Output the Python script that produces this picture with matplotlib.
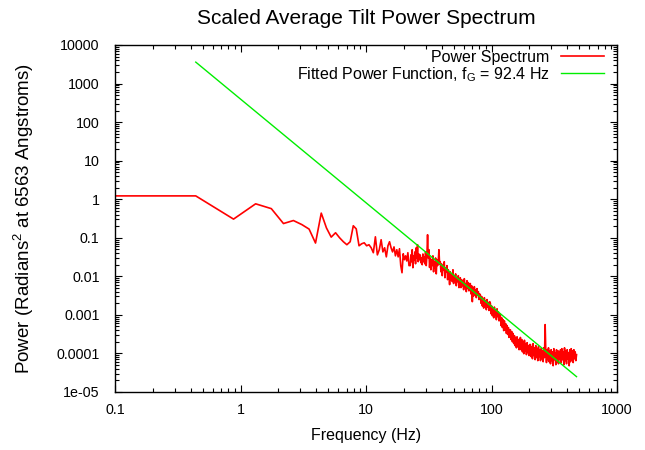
import numpy as np
import matplotlib
matplotlib.use("Agg")
import matplotlib.pyplot as plt
from matplotlib.ticker import FixedLocator, FixedFormatter, LogLocator, NullFormatter

plt.rcParams["font.family"] = ["Liberation Sans", "DejaVu Sans"]
plt.rcParams["mathtext.fontset"] = "custom"
plt.rcParams["mathtext.rm"] = "Liberation Sans"
plt.rcParams["mathtext.it"] = "Liberation Sans"

# ----------------------------
# Data
# ----------------------------

# low-frequency part, one value per spectral bin
low_freq = [0.1, 0.44, 0.88, 1.32, 1.76, 2.20, 2.64, 3.08, 3.52, 3.96, 4.40,
            4.84, 5.28, 5.72, 6.16, 6.60, 7.04, 7.48, 7.92, 8.36, 8.80,
            9.24, 9.68, 10.12, 10.56, 11.00, 11.44, 11.88, 12.32, 12.76, 13.20,
            13.64, 14.08, 14.52, 14.96, 15.40, 15.84, 16.28, 16.72, 17.16, 17.60,
            18.04, 18.48, 18.92, 19.36, 19.80, 20.24, 20.68, 21.12, 21.56, 22.00]
low_power = [1.22, 1.22, 0.305, 0.76, 0.57, 0.234, 0.28, 0.22, 0.168, 0.073, 0.436,
             0.18, 0.104, 0.135, 0.10, 0.079, 0.066, 0.079, 0.205, 0.17, 0.062,
             0.070, 0.074, 0.062, 0.066, 0.055, 0.041, 0.106, 0.036, 0.049, 0.089,
             0.043, 0.055, 0.032, 0.062, 0.079, 0.055, 0.043, 0.058, 0.034, 0.049,
             0.032, 0.052, 0.019, 0.0124, 0.0385, 0.027, 0.034, 0.025, 0.041, 0.019]

# dense part (22.5 - 476 Hz), values along a log-spaced frequency grid
dense_fmin, dense_fmax = 22.5, 476.0
dense_power = [
    0.019, 0.036, 0.024, 0.049, 0.0167, 0.034, 0.027, 0.043, 0.0212, 0.055, 0.030, 0.066, 0.024, 0.038, 0.027,
    0.036, 0.0225, 0.030, 0.020, 0.038, 0.024, 0.032, 0.021, 0.043, 0.019, 0.034, 0.12, 0.030, 0.049, 0.017,
    0.030, 0.0148, 0.027, 0.019, 0.034, 0.0131, 0.024, 0.0167, 0.030, 0.0116, 0.027, 0.019, 0.024, 0.049, 0.021,
    0.024, 0.0131, 0.021, 0.0104, 0.019, 0.0148, 0.024, 0.0092, 0.0167, 0.0131, 0.019, 0.0082, 0.0148, 0.0104, 0.0061,
    0.0131, 0.0082, 0.0116, 0.0073, 0.0148, 0.0065, 0.0104, 0.0082, 0.0116, 0.0057, 0.0092, 0.0073, 0.0104, 0.0051, 0.0082,
    0.0092, 0.0051, 0.0082, 0.0057, 0.0073, 0.0045, 0.0087, 0.0054, 0.0065, 0.0040, 0.0077, 0.0048, 0.0069, 0.0042, 0.0061,
    0.0065, 0.0035, 0.0057, 0.0022, 0.0051, 0.0031, 0.0054, 0.0037, 0.0045, 0.0028, 0.0048, 0.0033, 0.0040, 0.0025, 0.0035,
    0.0033, 0.0020, 0.0030, 0.0017, 0.0026, 0.0015, 0.0028, 0.0018, 0.0023, 0.00136, 0.0025, 0.0016, 0.0021, 0.0013, 0.0022,
    0.0020, 0.00107, 0.0017, 0.00095, 0.0015, 0.00084, 0.0016, 0.00101, 0.00136, 0.00075, 0.00144, 0.0009, 0.0012, 0.0007, 0.00107,
    0.00095, 0.00053, 0.00084, 0.00047, 0.00075, 0.00039, 0.0007, 0.00041, 0.00059, 0.00033, 0.00053, 0.00031, 0.00047, 0.00026, 0.00041,
    0.00041, 0.00023, 0.00037, 0.0002, 0.00033, 0.00018, 0.00029, 0.00016, 0.00026, 0.00014, 0.00027, 0.00015, 0.00023, 0.000125, 0.00022,
    0.00026, 0.000125, 0.00023, 0.00011, 0.0002, 0.0000985, 0.00022, 0.000118, 0.00018, 0.000093, 0.00019, 0.000105, 0.00016, 0.000088, 0.00017,
    0.00017, 0.000083, 0.00015, 0.000073, 0.00018, 0.000088, 0.00014, 0.000069, 0.00016, 0.000078, 0.000133, 0.000065, 0.00015, 0.000083, 0.000125,
    0.000065, 0.000133, 0.000073, 0.000118, 0.000061, 0.00014, 0.000078, 0.00056, 0.00011, 0.000058, 0.000125, 0.000069, 0.00014, 0.000061, 0.000118,
    0.000054, 0.000125, 0.000065, 0.00011, 0.000048, 0.000133, 0.000069, 0.000105, 0.000051, 0.000125, 0.000061, 0.000118, 0.000054, 0.00011, 0.000073,
    0.000125, 0.000058, 0.000133, 0.000069, 0.00011, 0.000051, 0.00014, 0.000065, 0.000118, 0.000054, 0.000125, 0.000073, 0.000105, 0.000048, 0.000125,
    0.000061, 0.000133, 0.000069, 0.000118, 0.000058, 0.000125, 0.000073, 0.00011, 0.000065, 0.000093,
]

# fitted power law, end points
fit_freq = [0.44, 476.0]
fit_power = [3.6e3, 2.5e-5]

x_ticks = [0.1, 1, 10, 100, 1000]
x_tick_labels = ["0.1", "1", "10", "100", "1000"]
y_ticks = [1e-5, 1e-4, 1e-3, 1e-2, 1e-1, 1, 10, 100, 1000, 10000]
y_tick_labels = ["1e-05", "0.0001", "0.001", "0.01", "0.1", "1", "10", "100", "1000", "10000"]

spec_freq = np.concatenate([low_freq, np.geomspace(dense_fmin, dense_fmax, len(dense_power))])
spec_power = np.concatenate([low_power, dense_power])

# ----------------------------
# Plot
# ----------------------------

fig = plt.figure(figsize=(6.45, 4.5), dpi=100)
ax = fig.add_axes([115 / 645, 1 - 392 / 450, 502 / 645, 347 / 450])

ax.plot(spec_freq, spec_power, color="#ff0000", linewidth=1.2, label="Power Spectrum")
ax.plot(fit_freq, fit_power, color="#00ee00", linewidth=1.0,
        label=r"Fitted Power Function, f$_{\mathrm{G}}$ = 92.4 Hz")

ax.set_xscale("log")
ax.set_yscale("log")
ax.set_xlim(0.1, 1000)
ax.set_ylim(1e-5, 1e4)

ax.xaxis.set_major_locator(FixedLocator(x_ticks))
ax.xaxis.set_major_formatter(FixedFormatter(x_tick_labels))
ax.yaxis.set_major_locator(FixedLocator(y_ticks))
ax.yaxis.set_major_formatter(FixedFormatter(y_tick_labels))
ax.xaxis.set_minor_locator(LogLocator(base=10, subs=range(2, 10), numticks=20))
ax.yaxis.set_minor_locator(LogLocator(base=10, subs=range(2, 10), numticks=20))
ax.xaxis.set_minor_formatter(NullFormatter())
ax.yaxis.set_minor_formatter(NullFormatter())

ax.tick_params(which="both", direction="in", top=True, right=True, width=0.8, colors="black")
ax.tick_params(which="major", length=5, labelsize=10.3)
ax.tick_params(axis="y", which="major", pad=11)
ax.tick_params(axis="x", which="major", pad=8)
ax.tick_params(which="minor", length=3)
for s in ax.spines.values():
    s.set_linewidth(1.0)

ax.set_xlabel("Frequency (Hz)", fontsize=11.5, labelpad=8)
ax.set_ylabel(r"Power (Radians$^{\mathrm{2}}$ at 6563 Angstroms)", fontsize=13.5, labelpad=15)
# title centred over the plot area
ax.set_title("Scaled Average Tilt Power Spectrum", fontsize=15, pad=15)

ax.legend(loc="upper right", bbox_to_anchor=((604 - 115) / 502, (392 - 50) / 347),
          frameon=False, markerfirst=False, fontsize=11.5,
          handlelength=2.7, handletextpad=0.7, labelspacing=0.0,
          borderaxespad=0, borderpad=0)

fig.savefig("out.png", dpi=100)
